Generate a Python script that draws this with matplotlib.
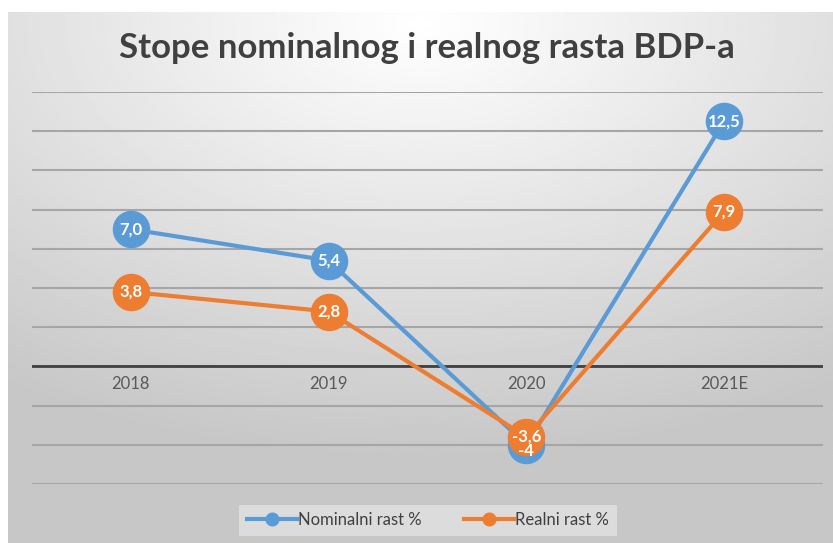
import numpy as np
import matplotlib.pyplot as plt

years = ['2018', '2019', '2020', '2021E']
nominal = [7.0, 5.4, -4.0, 12.5]
real = [3.8, 2.8, -3.6, 7.9]
nominal_labels = ['7,0', '5,4', '-4', '12,5']
real_labels = ['3,8', '2,8', '-3,6', '7,9']

blue = '#5b9bd5'
orange = '#ed7d31'

plt.rcParams['font.family'] = ['Lato', 'DejaVu Sans']

fig = plt.figure(figsize=(8.33, 5.43), dpi=100)

# gradient background of the chart box
bg = fig.add_axes([8 / 833, 0, 825 / 833, 531 / 543], zorder=-10)
yy, xx = np.mgrid[0:1:300j, 0:1:500j]
r = np.sqrt(((xx - 0.5) * 1.0) ** 2 + ((yy - 0.02) * 1.1) ** 2)
r = np.clip(r / 0.9, 0, 1)
bg.imshow(1 - 0.22 * r, cmap='gray', vmin=0, vmax=1, aspect='auto',
          extent=[0, 1, 1, 0])
bg.set_axis_off()

ax = fig.add_axes([32 / 833, 59 / 543, 791 / 833, 392 / 543])
ax.patch.set_alpha(0)
x = np.arange(len(years))

ax.plot(x, nominal, color=blue, lw=3, marker='o', ms=26, zorder=3)
ax.plot(x, real, color=orange, lw=3, marker='o', ms=26, zorder=4)
for xi, v, t in zip(x, nominal, nominal_labels):
    ax.text(xi, v + (-0.3 if xi == 2 else 0), t, color='white', fontsize=12,
            fontweight='bold', ha='center', va='center', zorder=6)
for xi, v, t in zip(x, real, real_labels):
    ax.text(xi, v, t, color='white', fontsize=12, fontweight='bold',
            ha='center', va='center', zorder=5)

ax.set_xlim(-0.5, 3.5)
ax.set_ylim(-6, 14)
ax.set_yticks(np.arange(-6, 15, 2))
ax.yaxis.grid(True, color='#a6a6a6', lw=1.5)
ax.axhline(0, color='#404040', lw=2, zorder=2)
ax.tick_params(left=False, bottom=False, labelleft=False, labelbottom=False)
for s in ax.spines.values():
    s.set_visible(False)
for xi, yr in zip(x, years):
    ax.text(xi, -0.5, yr, ha='center', va='top', fontsize=12, color='#595959')

fig.text(0.513, 0.912, 'Stope nominalnog i realnog rasta BDP-a', ha='center',
         va='center', fontsize=25, fontweight='bold', color='#404040')

leg = ax.legend(['Nominalni rast %', 'Realni rast %'], loc='center',
                bbox_to_anchor=(428 / 833, 23 / 543), bbox_transform=fig.transFigure,
                ncol=2, frameon=True, fontsize=12, markerscale=0.35,
                handlelength=3, handletextpad=0.1, columnspacing=2.5,
                fancybox=False, borderpad=0.45)
leg.get_frame().set_facecolor('#e2e2e2')
leg.get_frame().set_edgecolor('none')
for t in leg.get_texts():
    t.set_color('#404040')

fig.savefig('out.png', dpi=100, facecolor='white')
